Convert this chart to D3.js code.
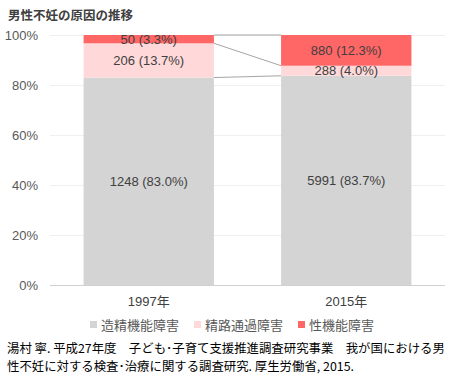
<!DOCTYPE html>
<html><head><meta charset="utf-8">
<script src="https://cdn.jsdelivr.net/npm/d3@7"></script>
<style>body{margin:0;background:#fff;font-family:"Noto Sans CJK JP","Liberation Sans",sans-serif;}</style>
</head><body><svg id="c" width="458" height="381"></svg>
<script>
const title = "男性不妊の原因の推移";
const categories = ["1997年", "2015年"];
const seriesNames = ["造精機能障害", "精路通過障害", "性機能障害"];
const seriesColors = ["#d4d4d4", "#ffd9d9", "#ff6666"];
const spermProduction = [1248, 5991];
const ductObstruction = [206, 288];
const sexualDysfunction = [50, 880];
const yTicks = [0, 0.2, 0.4, 0.6, 0.8, 1.0];
const sourceLines = ["湯村 寧. 平成27年度　子ども･子育て支援推進調査研究事業　我が国における男", "性不妊に対する検査･治療に関する調査研究. 厚生労働省, 2015."];

const svg = d3.select("#c");
const font = "'Liberation Sans','Noto Sans CJK JP',sans-serif";
const cjk = "'Noto Sans CJK JP',sans-serif";
const margin = {l:50, r:13, t:35, b:96};
const W = 458, H = 381;
const x = d3.scaleBand().domain(categories).range([margin.l, W - margin.r]).paddingInner(0.34).paddingOuter(0.17);
const y = d3.scaleLinear().domain([0,1]).range([H - margin.b, margin.t]);

svg.append("text").attr("x", 8).attr("y", 20).text(title)
  .attr("font-family", cjk).attr("font-weight", "bold").attr("font-size", 12.5).attr("fill", "#404040");

// gridlines
svg.append("g").selectAll("line").data(yTicks).join("line")
  .attr("x1", margin.l).attr("x2", W - margin.r)
  .attr("y1", d => Math.round(y(d)) + 0.5).attr("y2", d => Math.round(y(d)) + 0.5)
  .attr("stroke", d => d === 0 ? "#d0d0d0" : "#efefef").attr("stroke-width", 1);

// y axis labels
const yAxis = d3.axisLeft(y).tickValues(yTicks).tickFormat(d3.format(".0%")).tickSize(0).tickPadding(0);
const ga = svg.append("g").attr("transform", `translate(${margin.l - 12},0)`).call(yAxis);
ga.select(".domain").remove();
ga.selectAll("text").attr("font-family", font).attr("font-size", 13).attr("fill", "#595959");

const seriesData = [spermProduction, ductObstruction, sexualDysfunction];
const totals = categories.map((c, i) => seriesData.reduce((s, a) => s + a[i], 0));
const table = categories.map((c, i) => {
  const o = {cat: c};
  seriesNames.forEach((s, k) => o[s] = seriesData[k][i] / totals[i]);
  return o;
});
const stacked = d3.stack().keys(seriesNames)(table);

// series lines
stacked.forEach(layer => {
  svg.append("line")
    .attr("x1", x(categories[0]) + x.bandwidth()).attr("y1", y(layer[0][1]))
    .attr("x2", x(categories[1])).attr("y2", y(layer[1][1]))
    .attr("stroke", "#a6a6a6").attr("stroke-width", 1);
});

stacked.forEach((layer, k) => {
  const g = svg.append("g");
  g.selectAll("rect").data(layer).join("rect")
    .attr("x", d => x(d.data.cat)).attr("width", x.bandwidth())
    .attr("y", d => y(d[1])).attr("height", d => y(d[0]) - y(d[1]))
    .attr("fill", seriesColors[k]);
  g.selectAll("text").data(layer).join("text")
    .attr("x", d => x(d.data.cat) + x.bandwidth()/2)
    .attr("y", d => (y(d[0]) + y(d[1]))/2)
    .attr("dy", "0.36em").attr("text-anchor", "middle")
    .attr("font-family", font).attr("font-size", 13).attr("fill", "#404040")
    .text((d, i) => `${seriesData[k][i]} (${(seriesData[k][i]/totals[i]*100).toFixed(1)}%)`);
});

// x axis labels
svg.append("g").selectAll("text").data(categories).join("text")
  .attr("x", d => x(d) + x.bandwidth()/2).attr("y", H - margin.b + 21)
  .attr("text-anchor", "middle").attr("font-family", font).attr("font-size", 13).attr("fill", "#404040")
  .text(d => d);

// legend
const legX = [90, 194, 298];
const lg = svg.append("g");
seriesNames.forEach((s, k) => {
  lg.append("rect").attr("x", legX[k]).attr("y", 321).attr("width", 7).attr("height", 7).attr("fill", seriesColors[k]);
  lg.append("text").attr("x", legX[k] + 11).attr("y", 325).attr("dy", "0.36em")
    .attr("font-family", cjk).attr("font-size", 13).attr("fill", "#595959").text(s);
});

// source
svg.append("g").selectAll("text").data(sourceLines).join("text")
  .attr("x", 7).attr("y", (d, i) => 353 + i * 18)
  .attr("font-family", cjk).attr("font-size", 12.4).attr("fill", "#000").text(d => d);
</script></body></html>
